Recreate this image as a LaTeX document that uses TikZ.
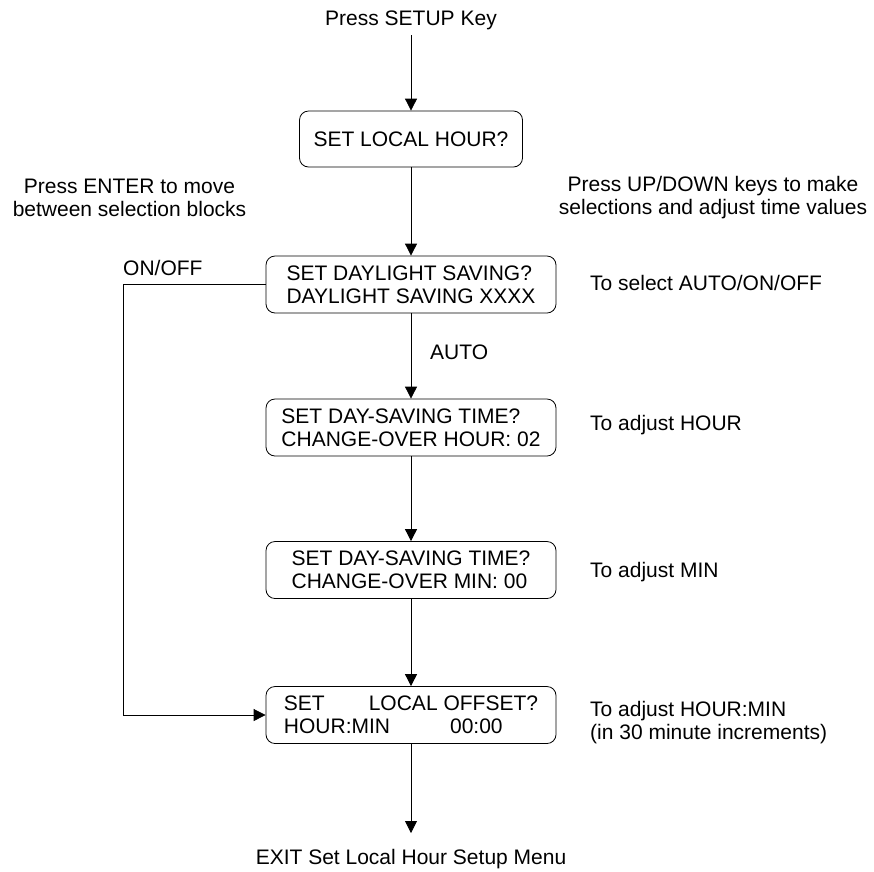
\documentclass[tikz,border=0pt]{standalone}
\usepackage{fontspec}
\setmainfont{Liberation Sans}
\usetikzlibrary{arrows.meta}
\begin{document}
\begin{tikzpicture}[x=1pt,y=-1pt,
  every node/.style={font=\fontsize{21}{23}\selectfont},
  box/.style={draw, rounded corners=9pt, line width=0.8pt, minimum height=57pt, minimum width=290pt, align=left, inner sep=2pt},
  lbl/.style={inner sep=0pt},
  flow/.style={line width=0.8pt, -{Triangle[width=12pt,length=12pt]}}]
\useasboundingbox (0,0) rectangle (874,871);
% main column
\node[lbl, anchor=base] (setup) at (411,25.5) {Press SETUP Key};
\coordinate (s0) at (411,35);
\node[box, minimum width=223pt, minimum height=56pt] (b1) at (411,139) {SET LOCAL HOUR?};
\node[box] (b2) at (411,284.5) {SET DAYLIGHT SAVING?\\DAYLIGHT SAVING XXXX};
\node[box] (b3) at (411,427.5) {SET DAY-SAVING TIME?\\CHANGE-OVER HOUR: 02};
\node[box] (b4) at (411,570) {SET DAY-SAVING TIME?\\CHANGE-OVER MIN: 00};
\node[box] (b5) at (411,715) {SET\hspace{44pt}LOCAL OFFSET?\\HOUR:MIN\hspace{60pt}00:00};
\coordinate (e0) at (411,833);
\node[lbl, anchor=base] (exit) at (411,864.5) {EXIT Set Local Hour Setup Menu};
% side notes
\node[lbl, align=center] (enter) at (129.5,197.5) {Press ENTER to move\\between selection blocks};
\node[lbl, align=center] (updown) at (713,197.5) {Press UP/DOWN keys to make\\selections and adjust time values};
\node[lbl, anchor=base west] (n2) at (590,290.5) {To select AUTO/ON/OFF};
\node[lbl, anchor=base west] (n3) at (590,430.5) {To adjust HOUR};
\node[lbl, anchor=base west] (n4) at (590,577.5) {To adjust MIN};
\node[lbl, anchor=west, align=left] (n5) at (590,723) {To adjust HOUR:MIN\\(in 30 minute increments)};
% connector labels
\node[lbl, anchor=base west] (onoff) at (123,275.5) {ON/OFF};
\node[lbl, anchor=base west] (auto) at (430,359.5) {AUTO};
% connectors
\draw[flow] (s0) -- (b1);
\draw[flow] (b1) -- (b2);
\draw[flow] (b2) -- (b3);
\draw[flow] (b3) -- (b4);
\draw[flow] (b4) -- (b5);
\draw[flow] (b5) -- (e0);
\coordinate (lx) at (123,0);
\draw[flow] (b2.west) -- (b2.west -| lx) |- (b5.west);
\end{tikzpicture}
\end{document}
